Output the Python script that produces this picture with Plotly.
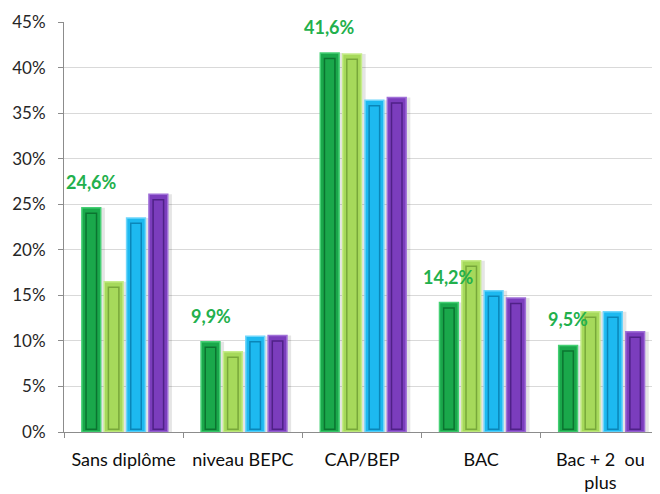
import plotly.graph_objects as go

categories = ["Sans diplôme", "niveau BEPC", "CAP/BEP", "BAC", "Bac + 2  ou<br>plus"]
serie_1 = [24.6, 9.9, 41.6, 14.2, 9.5]
serie_2 = [16.5, 8.8, 41.5, 18.8, 13.2]
serie_3 = [23.5, 10.5, 36.4, 15.5, 13.2]
serie_4 = [26.1, 10.6, 36.7, 14.7, 11.0]
y_ticks = [0, 5, 10, 15, 20, 25, 30, 35, 40, 45]

series = [serie_1, serie_2, serie_3, serie_4]
fills = ["#1aa84b", "#a6d95b", "#1db9f0", "#7b3dbd"]
rims = ["#45d074", "#c6ec8a", "#6fd6fb", "#a070d8"]
inner = ["#0b7430", "#78a83a", "#0a86b8", "#4f2187"]

xs = list(range(len(categories)))
step = 0.1875
bw = 0.158
start = -0.35

fig = go.Figure()
# soft shadows
for i, vals in enumerate(series):
    off = start + i * step
    fig.add_trace(go.Bar(
        x=xs, y=vals, offset=off + 0.025, width=bw + 0.01,
        marker=dict(color="rgba(0,0,0,0.10)", line=dict(width=0)),
        hoverinfo="skip",
    ))
# main bars
for i, (vals, fc, rc) in enumerate(zip(series, fills, rims)):
    off = start + i * step
    fig.add_trace(go.Bar(
        x=xs, y=vals, offset=off, width=bw,
        marker=dict(color=fc, line=dict(color=rc, width=1.5)),
        hoverinfo="skip",
    ))
# inner bevel outline
for i, (vals, ic) in enumerate(zip(series, inner)):
    off = start + i * step
    fig.add_trace(go.Bar(
        x=xs, y=[v - 0.9 for v in vals], base=0.3, offset=off + 0.035, width=bw - 0.07,
        marker=dict(color="rgba(0,0,0,0)", line=dict(color=ic, width=1.5)),
        hoverinfo="skip",
    ))

for xi, v in zip(xs, serie_1):
    fig.add_annotation(
        x=xi + start + bw / 2, y=v, xref="x", yref="y",
        text=f"{v:.1f}%".replace(".", ","),
        showarrow=False, yshift=26, yanchor="middle",
        font=dict(family="Lato", size=18, color="#22b04c", weight="bold"),
    )

# the page body has an 8px margin, so margins are shifted to compensate
fig.update_layout(
    width=660, height=494,
    margin=dict(l=56, r=8, t=14, b=70),
    barmode="overlay",
    showlegend=False,
    plot_bgcolor="white", paper_bgcolor="white",
    font=dict(family="Lato", size=16, color="#262626"),
)
fig.update_yaxes(
    range=[0, 45], tickvals=y_ticks, ticktext=[f"{t}%" for t in y_ticks],
    showgrid=True, gridcolor="#d9d9d9", gridwidth=1,
    showline=True, linecolor="#8c8c8c", linewidth=1,
    ticks="outside", ticklen=5, tickcolor="#8c8c8c",
    ticklabelstandoff=9,
    zeroline=False, automargin=False,
    tickfont=dict(family="Lato", size=17, color="#262626"),
)
fig.update_xaxes(
    range=[-0.5, len(categories) - 0.5],
    tickvals=xs, ticktext=categories,
    showgrid=False, zeroline=False,
    showline=True, linecolor="#8c8c8c", linewidth=1,
    ticks="", automargin=False, ticklabelstandoff=11,
    tickfont=dict(family="Lato", size=18, color="#0d0d0d"),
)
# category boundary tick marks on a twin axis
fig.update_layout(xaxis2=dict(
    overlaying="x", matches="x", side="bottom", anchor="y",
    tickvals=[x - 0.5 for x in xs], ticks="outside", ticklen=5, tickcolor="#8c8c8c",
    showticklabels=False, showgrid=False, zeroline=False, showline=False,
    automargin=False,
))
fig.add_trace(go.Scatter(x=[0], y=[0], xaxis="x2", yaxis="y", mode="markers",
                         marker=dict(opacity=0), hoverinfo="skip", showlegend=False))

fig.write_html("out.html")
